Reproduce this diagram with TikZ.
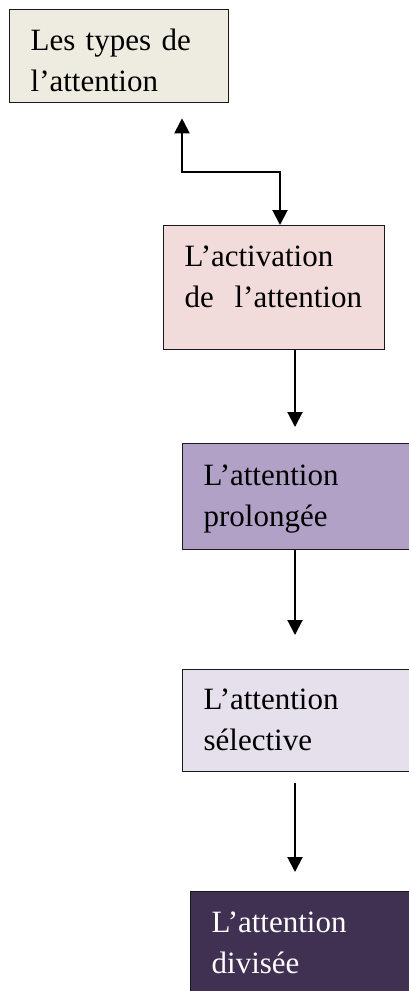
\documentclass[tikz,border=0pt]{standalone}
\usepackage{fontspec}
\setmainfont{Liberation Serif}
\usetikzlibrary{arrows.meta,positioning,calc}
\definecolor{typbeige}{HTML}{EEECE1}
\definecolor{aktrosa}{HTML}{F2DCDB}
\definecolor{prollila}{HTML}{B2A1C7}
\definecolor{selljus}{HTML}{E5E0EC}
\definecolor{divmork}{HTML}{403152}
\tikzset{
  >={Triangle[length=15pt,width=15pt]},
  % rutor
  ruta/.style={draw=black!90,line width=1.3pt,anchor=north west,align=left,
               inner xsep=21pt,inner ysep=0pt,text height=41pt,
               font=\fontsize{31}{41}\selectfont},
  smal/.style={text width=177pt},
  bred/.style={text width=230pt},
  % pilar
  pil/.style={->,draw=black,line width=2pt},
}
\begin{document}
\begin{tikzpicture}[x=1pt,y=-1pt]
\useasboundingbox (0,0) rectangle (409,991);
\clip (0,0) rectangle (409,991);
  \node[ruta,smal,fill=typbeige,text depth=52pt] (typer) at (9,9)
    {Les types de\\l’attention};
  \node[ruta,text width=179pt,fill=aktrosa,text depth=83pt] (aktiv) at (163,225)
    {L’activation\\de\ \ l’attention};
  \node[ruta,bred,fill=prollila,text height=42pt,text depth=64pt] (prol) at (182,443)
    {L’attention\\prolongée};
  \node[ruta,bred,fill=selljus,text height=40pt,text depth=62pt] (sel) at (182,669)
    {L’attention\\sélective};
  \node[ruta,bred,fill=divmork,text=white,text depth=120pt] (div) at (190,891)
    {L’attention\\divisée};
  \coordinate (kna) at (280,172);
  \draw[pil,<->,shorten <=15pt] ([xshift=173pt]typer.south west) |- (kna)
    -- ([xshift=117pt]aktiv.north west);
  \draw[pil,shorten >=16pt] ([xshift=132pt]aktiv.south west) -- ([xshift=113pt]prol.north west);
  \draw[pil,shorten >=34pt] ([xshift=113pt]prol.south west) -- ([xshift=113pt]sel.north west);
  \draw[pil,shorten <=11pt,shorten >=19pt] ([xshift=113pt]sel.south west)
    -- ([xshift=105pt]div.north west);
\end{tikzpicture}
\end{document}
